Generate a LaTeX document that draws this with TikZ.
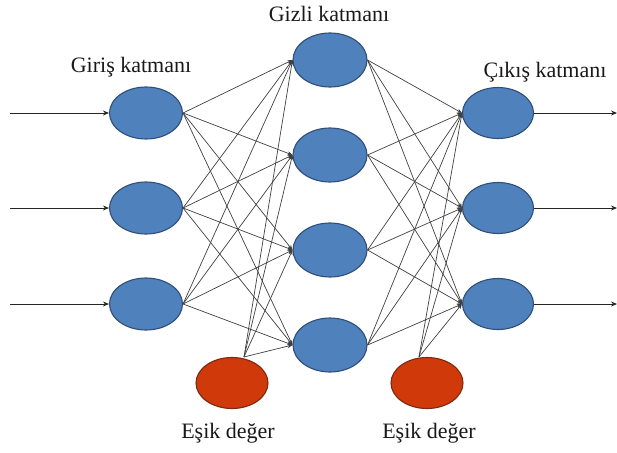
\documentclass[tikz,border=0pt]{standalone}
\usepackage{fontspec}
\setmainfont{Liberation Serif}
\usetikzlibrary{shapes.geometric,arrows.meta}
\definecolor{nblue}{HTML}{4F81BD}
\definecolor{nblueb}{HTML}{2F4E78}
\definecolor{nred}{HTML}{D03A0A}
\definecolor{nredb}{HTML}{7A2A12}
\begin{document}
\begin{tikzpicture}[x=1pt,y=-1pt,
  neuron/.style={ellipse,draw=nblueb,line width=1.1pt,fill=nblue,minimum width=73pt,minimum height=52pt,inner sep=0pt},
  bias/.style={ellipse,draw=nredb,line width=1.1pt,fill=nred,minimum width=72pt,minimum height=51pt,inner sep=0pt},
  lbl/.style={font=\fontsize{22}{26}\selectfont,inner sep=0pt,text=black!90},
  io/.style={draw=black!85,line width=0.9pt,-{Stealth[length=6pt,width=5pt]}},
  wire/.style={draw=black!75,line width=0.7pt,-{Stealth[length=5pt,width=4pt]}}
]
\useasboundingbox (0,0) rectangle (617,452);
% input layer
\node[neuron] (i1) at (146,113) {};
\node[neuron] (i2) at (146,208) {};
\node[neuron] (i3) at (146,304) {};
% hidden layer
\node[neuron,minimum width=74pt,minimum height=54pt] (h1) at (330,60) {};
\node[neuron,minimum width=74pt,minimum height=54pt] (h2) at (330,155) {};
\node[neuron,minimum width=74pt,minimum height=54pt] (h3) at (330,250) {};
\node[neuron,minimum width=74pt,minimum height=54pt] (h4) at (330,345) {};
% output layer
\node[neuron,minimum width=71pt,minimum height=51pt] (o1) at (498,113) {};
\node[neuron,minimum width=71pt,minimum height=51pt] (o2) at (498,208) {};
\node[neuron,minimum width=71pt,minimum height=51pt] (o3) at (498,304) {};
% bias nodes
\node[bias] (b1) at (232,383) {};
\node[bias] (b2) at (427,383) {};
% labels
\node[lbl] (t1) at (131,67) {Giriş katmanı};
\node[lbl] (t2) at (329,14) {Gizli katmanı};
\node[lbl] (t3) at (545,72) {Çıkış katmanı};
\node[lbl] (t4) at (228,433) {Eşik değer};
\node[lbl] (t5) at (429,433) {Eşik değer};
% input and output arrows
\coordinate (s1) at (10,113);
\coordinate (s2) at (10,208);
\coordinate (s3) at (10,304);
\coordinate (e1) at (617,113);
\coordinate (e2) at (617,208);
\coordinate (e3) at (617,304);
\foreach \k in {1,2,3}{
  \draw[io] (s\k) -- (i\k);
  \draw[io] (o\k) -- (e\k);
}
% input -> hidden
\foreach \a in {1,2,3}{
  \foreach \b in {1,2,3,4}{
    \draw[wire] (i\a.east) -- (h\b.west);
  }
}
\foreach \b in {1,2,3,4}{
  \draw[wire] ([xshift=12pt]b1.north) -- (h\b.west);
}
% hidden -> output
\foreach \a in {1,2,3,4}{
  \foreach \b in {1,2,3}{
    \draw[wire] (h\a.east) -- (o\b.west);
  }
}
\foreach \b in {1,2,3}{
  \draw[wire] ([xshift=-8pt]b2.north) -- (o\b.west);
}
\end{tikzpicture}
\end{document}
